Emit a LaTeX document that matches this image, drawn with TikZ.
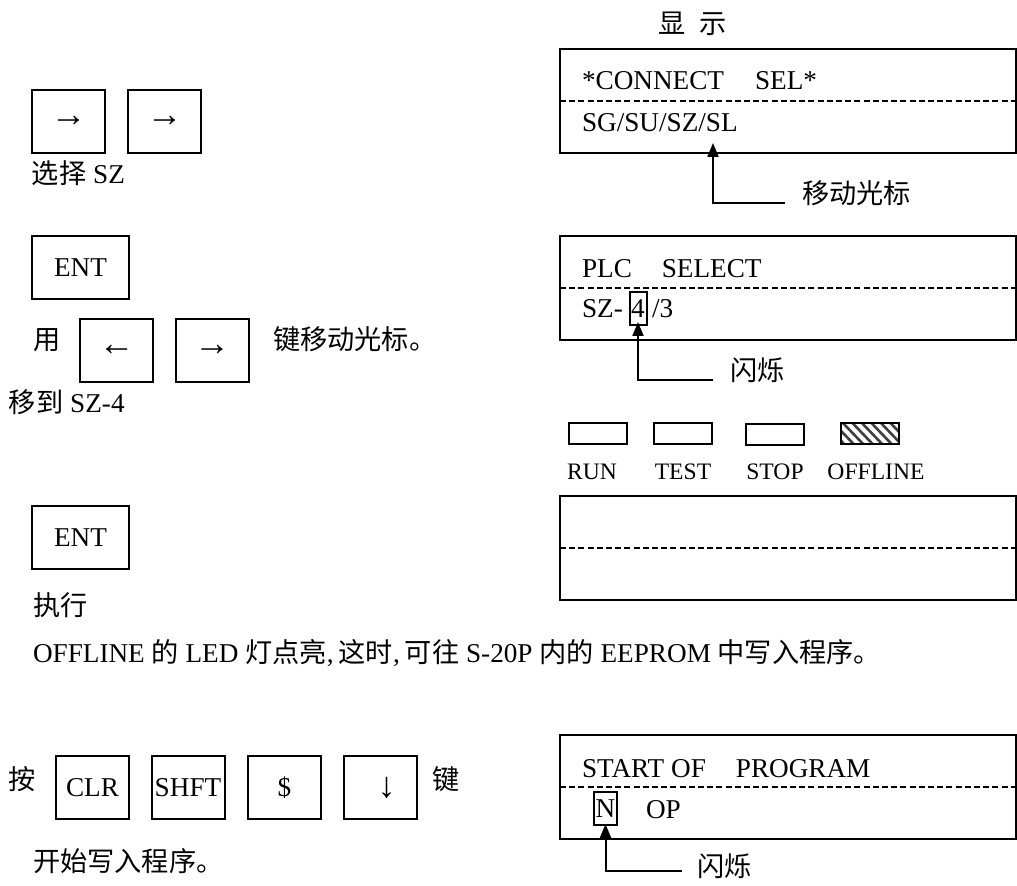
\documentclass[tikz,border=0pt]{standalone}
\usepackage{fontspec}
\setmainfont{Liberation Serif}
\newfontfamily\cjk{Noto Sans CJK SC}
\usetikzlibrary{arrows.meta}
\newcommand\bodyfs{\fontsize{13.6pt}{16pt}\selectfont}
\newcommand\ledfs{\fontsize{11.8pt}{14pt}\selectfont}
\newcommand\arrfs{\fontsize{18pt}{18pt}\selectfont}
\begin{document}
\begin{tikzpicture}[x=0.5pt,y=-0.5pt,
  every node/.style={inner sep=0pt, outer sep=0pt, font=\bodyfs},
  keybox/.style={draw, line width=1pt, minimum width=36.5pt, minimum height=31.5pt},
  arrkey/.style={keybox, font=\arrfs},
  entbox/.style={keybox, minimum width=48.5pt},
  disp/.style={draw, line width=1pt, minimum width=228pt, minimum height=52pt},
  dashline/.style={line width=1pt, dash pattern=on 3pt off 1.6pt},
  led/.style={draw, line width=1pt, minimum width=29pt, minimum height=10.5pt},
  ledlabel/.style={font=\ledfs},
  cursorbox/.style={draw, line width=1pt, minimum width=8.5pt, minimum height=16.5pt},
  pointer/.style={line width=1pt, -{Triangle[length=7pt,width=5.5pt]}},
  txt/.style={anchor=base west}
]
\useasboundingbox (0,0) rectangle (1017,886);

% ---------- left column ----------
\node[arrkey] (k1) at (68.5,121.5) {→};
\node[arrkey] (k2) at (164.5,121.5) {→};
\node[txt] (t1) at (32,184) {{\cjk 选择} SZ};

\node[entbox] (ent1) at (80.5,267.5) {ENT};
\node[txt] (t2) at (33,350) {\cjk 用};
\node[arrkey] (kl) at (116.5,350.5) {←};
\node[arrkey] (kr) at (212,350.5) {→};
\node[txt] (t3) at (273,350) {\cjk 键移动光标。};
\node[txt] (t4) at (9,413) {{\cjk 移到} SZ-4};

\node[entbox] (ent2) at (80.5,538) {ENT};
\node[txt] (t5) at (33,616) {\cjk 执行};
\node[txt] (t6) at (33,663) {OFFLINE {\cjk 的} LED {\cjk 灯点亮},\hspace{2.5pt}{\cjk 这时},\hspace{2.5pt}{\cjk 可往} S-20P {\cjk 内的} EEPROM {\cjk 中写入程序。}};

\node[txt] (t7) at (9,789) {\cjk 按};
\node[keybox] (kclr) at (92.5,787.5) {CLR};
\node[keybox] (kshft) at (188,787.5) {SHFT};
\node[keybox] (kdol) at (284.5,787.5) {\$};
\node[arrkey] (kdown) at (380.5,787.5) {\hspace{6pt}↓};
\node[txt] (t8) at (432,789) {\cjk 键};
\node[txt] (t9) at (33,871) {\cjk 开始写入程序。};

% ---------- right column ----------
\node[txt] (title) at (658,34) {{\cjk 显}\hspace{7pt}{\cjk 示}};

% display 1
\node[disp] (d1) at (788,101) {};
\draw[dashline] (d1.west) -- (d1.east);
\node[txt] (d1a) at (582,90) {*CONNECT\hspace{15.5pt}SEL*};
\node[txt] (d1b) at (582,132) {SG/SU/SZ/SL};
\coordinate (p1tip) at (713,143);
\coordinate (p1end) at (785,203);
\draw[pointer] (p1end) -| (p1tip);
\node[txt] (l1) at (802,204) {\cjk 移动光标};

% display 2
\node[disp] (d2) at (788,288) {};
\draw[dashline] (d2.west) -- (d2.east);
\node[txt] (d2a) at (582,278) {PLC\hspace{15pt}SELECT};
\node[txt] (d2b) at (582,318) {SZ-};
\node[cursorbox] (c4) at (638,308.5) {4};
\node[txt] (d2c) at (652,318) {/3};
\coordinate (p2end) at (713,380);
\draw[pointer] (p2end) -| ([yshift=1.5pt]c4.south);
\node[txt] (l2) at (730,381) {\cjk 闪烁};

% LEDs
\node[led] (ledrun) at (598,433.5) {};
\node[led] (ledtest) at (683,433.5) {};
\node[led] (ledstop) at (774.5,435) {};
\node[led] (ledoff) at (869.5,433.5) {};
\begin{scope}
  \clip (ledoff.north west) rectangle (ledoff.south east);
  \foreach \i in {-3,...,6} {
    \draw[line width=1.3pt, black!75] (841+\i*9.5,421) -- (841+\i*9.5+24,446);
  }
\end{scope}
\draw[line width=1pt] (ledoff.north west) rectangle (ledoff.south east);
\node[ledlabel] (lrun) at (592,472) {RUN};
\node[ledlabel] (ltest) at (683,472) {TEST};
\node[ledlabel] (lstop) at (775,472) {STOP};
\node[ledlabel] (loff) at (876,472) {OFFLINE};

% display 3
\node[disp] (d3) at (788,548.5) {};
\draw[dashline] (d3.west) -- (d3.east);

% display 4
\node[disp] (d4) at (788,787) {};
\draw[dashline] (d4.west) -- (d4.east);
\node[txt] (d4a) at (582,777) {START OF\hspace{15pt}PROGRAM};
\node[cursorbox, minimum width=11.5pt] (cn) at (605.5,808.5) {N};
\node[txt] (d4b) at (646,818) {OP};
\coordinate (p3end) at (682,871);
\draw[pointer] (p3end) -| ([yshift=0.5pt]cn.south);
\node[txt] (l3) at (697,876) {\cjk 闪烁};
\end{tikzpicture}
\end{document}
